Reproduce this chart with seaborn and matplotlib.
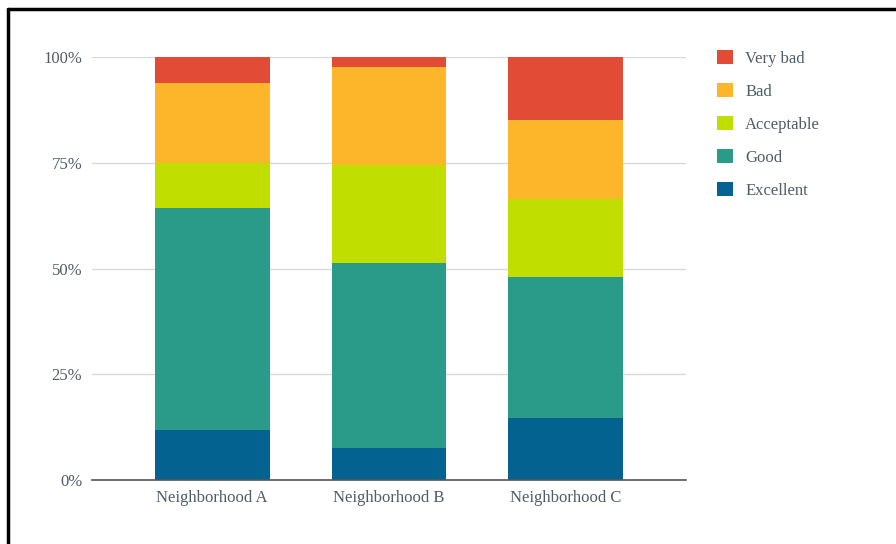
import numpy as np
import pandas as pd
import matplotlib.pyplot as plt
import seaborn as sns
from matplotlib.lines import Line2D
from matplotlib.patches import Patch

# Data (percent of answers per neighborhood)
neighborhoods = ['Neighborhood A', 'Neighborhood B', 'Neighborhood C']
ratings = ['Excellent', 'Good', 'Acceptable', 'Bad', 'Very bad']
excellent = [11.8, 7.6, 14.8]
good = [52.5, 43.7, 33.2]
acceptable = [10.7, 23.1, 18.5]
bad = [18.9, 23.2, 18.7]
very_bad = [6.1, 2.4, 14.8]
colors = ['#036290', '#2a9a89', '#c0df00', '#fdb629', '#e24c37']

df = pd.DataFrame({'neighborhood': neighborhoods, 'Excellent': excellent, 'Good': good,
                   'Acceptable': acceptable, 'Bad': bad, 'Very bad': very_bad})

sns.set_theme(style='white')
plt.rcParams['font.family'] = ['Liberation Serif', 'DejaVu Serif']
text_col = '#505c66'

fig = plt.figure(figsize=(8.96, 5.44), dpi=100)
ax = fig.add_axes([92/896, 1-480.3/544, (686-92)/896, (480.3-57)/544])

# stack bars bottom-up with cumulative sums drawn tallest first
cum = df[ratings].cumsum(axis=1)
for r, c in reversed(list(zip(ratings, colors))):
    sns.barplot(x='neighborhood', y=cum[r], data=df.assign(**{r: cum[r]}), color=c,
                width=0.65, ax=ax, saturation=1, edgecolor='none', zorder=3)

ax.set_ylim(0, 100)
ax.set_xlim(-0.68, 2.68)
ax.set_yticks([0, 25, 50, 75, 100])
ax.set_yticklabels(['0%', '25%', '50%', '75%', '100%'])
ax.yaxis.grid(True, color='#d9d9d9', linewidth=1, zorder=0)
ax.set_xlabel('')
ax.set_ylabel('')
for s in ['top', 'right', 'left']:
    ax.spines[s].set_visible(False)
ax.spines['bottom'].set_color('#555555')
ax.spines['bottom'].set_linewidth(1.2)
ax.spines['bottom'].set_zorder(4)
ax.tick_params(axis='both', length=0, labelsize=12, labelcolor=text_col)
ax.tick_params(axis='x', pad=7)
ax.tick_params(axis='y', pad=7)

handles = [Patch(facecolor=c, edgecolor='none', label=r) for r, c in zip(ratings, colors)][::-1]
fig.legend(handles=handles, loc='upper left', bbox_to_anchor=(702/896, 1-35/544), frameon=False,
           fontsize=12, labelcolor=text_col, handlelength=0.95, handleheight=0.95,
           labelspacing=0.96, handletextpad=0.75)

# black frame on top and left edges
fig.add_artist(Line2D([8/896, 1], [1-8.5/544, 1-8.5/544], color='black', linewidth=2.5))
fig.add_artist(Line2D([8/896, 8/896], [0, 1-8.5/544], color='black', linewidth=2.5))

fig.savefig('out.png', dpi=100)
